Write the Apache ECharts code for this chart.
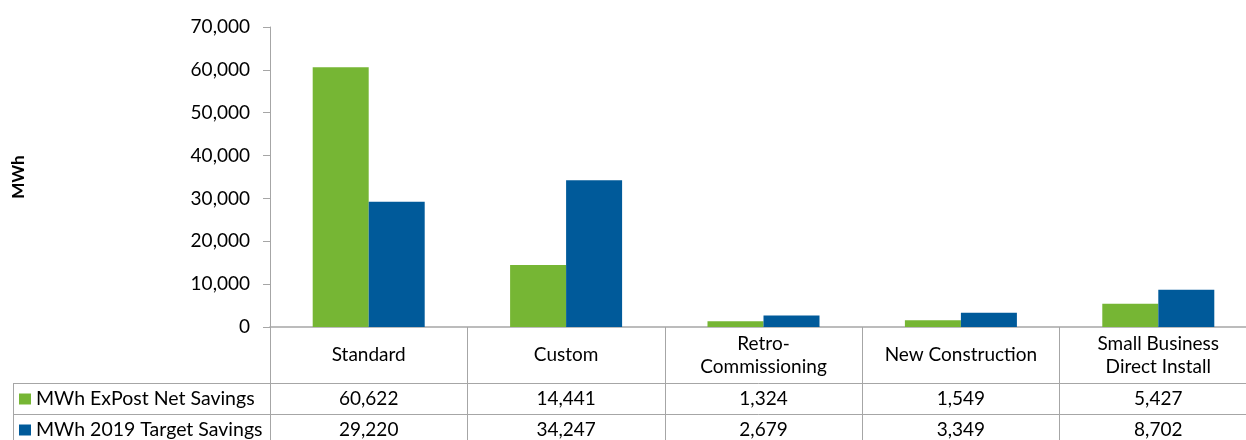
<!DOCTYPE html>
<html>
<head>
<meta charset="utf-8">
<script src="https://cdn.jsdelivr.net/npm/echarts@6/dist/echarts.min.js"></script>
<style>
  html, body { margin: 0; padding: 0; background: #fff; }
  #chart { width: 1246px; height: 440px; }
</style>
</head>
<body>
<div id="chart"></div>
<script>
// Program categories and savings (MWh)
const categories = ['Standard', 'Custom', 'Retro-\nCommissioning', 'New Construction', 'Small Business\nDirect Install'];
const expostNet = [60622, 14441, 1324, 1549, 5427];
const target2019 = [29220, 34247, 2679, 3349, 8702];
const seriesNames = ['MWh ExPost Net Savings', 'MWh 2019 Target Savings'];
const yTicks = { min: 0, max: 70000, interval: 10000 };

const GREEN = '#76B634';
const BLUE = '#005A9A';
const GRID_GRAY = '#A6A6A6';
const FONT = 'Lato';

const fmt = v => v.toLocaleString('en-US');

const chart = echarts.init(document.getElementById('chart'));

// Axis used to print one data-table row beneath the plot
function tableRowAxis(values, offset) {
  return {
    type: 'category',
    position: 'bottom',
    offset: offset,
    data: values.map(fmt),
    axisLine: { show: true, lineStyle: { color: GRID_GRAY, width: 1 } },
    axisTick: { show: false },
    axisLabel: {
      interval: 0, margin: 16, verticalAlign: 'middle',
      color: '#000', fontFamily: FONT, fontSize: 19
    },
    splitLine: { show: false }
  };
}

// One legend entry per table row, at the row's left cell
function rowLegend(name, top) {
  return {
    orient: 'horizontal', left: 19, top: top, padding: 0,
    itemWidth: 12, itemHeight: 11,
    icon: 'rect', selectedMode: false,
    textStyle: { color: '#000', fontFamily: FONT, fontSize: 19.5, lineHeight: 20 },
    data: [name]
  };
}

chart.setOption({
  animation: false,
  textStyle: { fontFamily: FONT },
  grid: { left: 270, right: -11, top: 27, bottom: 113, outerBoundsMode: 'none', containLabel: false },
  legend: [rowLegend(seriesNames[0], 389), rowLegend(seriesNames[1], 420)],
  xAxis: [
    {
      type: 'category',
      data: categories,
      axisLine: { show: true, lineStyle: { color: GRID_GRAY, width: 1.5 } },
      axisTick: { show: true, alignWithLabel: false, length: 130, lineStyle: { color: GRID_GRAY, width: 1 } },
      axisLabel: {
        interval: 0, margin: 28, verticalAlign: 'middle', align: 'center',
        color: '#000', fontFamily: FONT, fontSize: 19, lineHeight: 23
      },
      splitLine: { show: false }
    },
    tableRowAxis(expostNet, 56),
    tableRowAxis(target2019, 87)
  ],
  yAxis: {
    type: 'value',
    min: yTicks.min, max: yTicks.max, interval: yTicks.interval,
    name: 'MWh', nameLocation: 'middle', nameGap: 243,
    nameTextStyle: { color: '#000', fontFamily: FONT, fontSize: 17, fontWeight: 'bold' },
    axisLine: { show: true, lineStyle: { color: GRID_GRAY, width: 1 } },
    axisTick: { show: true, length: 7, lineStyle: { color: GRID_GRAY } },
    axisLabel: {
      margin: 20, color: '#000', fontFamily: FONT, fontSize: 19,
      formatter: v => fmt(v)
    },
    splitLine: { show: false }
  },
  series: [
    {
      name: seriesNames[0], type: 'bar', data: expostNet,
      barWidth: 56, barGap: '0%',
      itemStyle: { color: GREEN }
    },
    {
      name: seriesNames[1], type: 'bar', data: target2019,
      barWidth: 56, barGap: '0%',
      itemStyle: { color: BLUE }
    }
  ],
  // Legend column borders of the data table
  graphic: [
    { type: 'line', shape: { x1: 13, y1: 383.5, x2: 270, y2: 383.5 }, style: { stroke: GRID_GRAY, lineWidth: 1 } },
    { type: 'line', shape: { x1: 13, y1: 414.5, x2: 270, y2: 414.5 }, style: { stroke: GRID_GRAY, lineWidth: 1 } },
    { type: 'line', shape: { x1: 13.5, y1: 383, x2: 13.5, y2: 440 }, style: { stroke: GRID_GRAY, lineWidth: 1 } }
  ]
});
</script>
</body>
</html>
